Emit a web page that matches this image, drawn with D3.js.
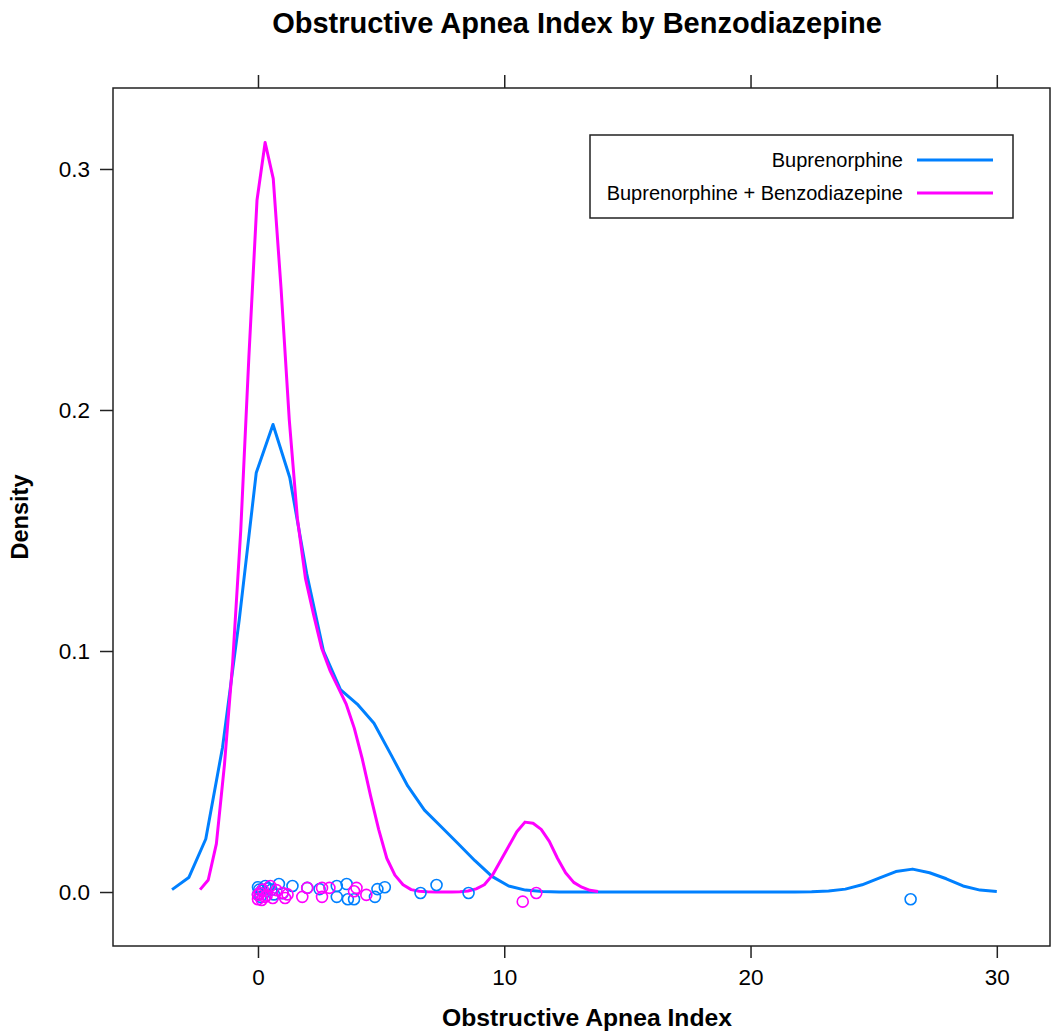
<!DOCTYPE html>
<html>
<head>
<meta charset="utf-8">
<script src="https://cdn.jsdelivr.net/npm/d3@7"></script>
<style>
  body { margin: 0; background: #fff; }
  svg text { font-family: "Liberation Sans", Arial, Helvetica, sans-serif; fill: #000; }
</style>
</head>
<body>
<div id="chart"></div>
<script>
// density curve of Buprenorphine group (x, density)
var bupX = [-3.49, -2.81, -2.12, -1.44, -0.76, -0.07, 0.61, 1.29, 1.98, 2.66,
            3.35, 4.03, 4.71, 5.40, 6.08, 6.76, 7.45, 8.13, 8.81, 9.50,
            10.18, 10.86, 11.55, 12.23, 12.91, 13.60, 14.28, 14.96, 15.65, 16.33,
            17.02, 17.70, 18.38, 19.07, 19.75, 20.43, 21.12, 21.80, 22.48, 23.17,
            23.85, 24.53, 25.22, 25.90, 26.58, 27.27, 27.95, 28.63, 29.32, 30.00];
var bupY = [0.001, 0.006, 0.022, 0.060, 0.113, 0.174, 0.194, 0.172, 0.132, 0.100,
            0.084, 0.078, 0.070, 0.057, 0.044, 0.034, 0.027, 0.020, 0.013, 0.0065,
            0.0025, 0.0008, 0.0002, 0, 0, 0, 0, 0, 0, 0,
            0, 0, 0, 0, 0, 0, 0, 0, 0.0001, 0.0004,
            0.0012, 0.003, 0.0058, 0.0085, 0.0095, 0.008, 0.0055, 0.0025, 0.0008, 0.0002];

// density curve of Buprenorphine + Benzodiazepine group
var benzoX = [-2.35, -2.02, -1.69, -1.36, -1.03, -0.70, -0.37, -0.04, 0.29, 0.62,
              0.94, 1.27, 1.60, 1.93, 2.26, 2.59, 2.92, 3.25, 3.58, 3.91,
              4.24, 4.57, 4.90, 5.23, 5.56, 5.89, 6.22, 6.55, 6.88, 7.21,
              7.54, 7.87, 8.20, 8.53, 8.86, 9.19, 9.52, 9.85, 10.18, 10.51,
              10.84, 11.17, 11.50, 11.83, 12.16, 12.49, 12.82, 13.15, 13.48, 13.81];
var benzoY = [0.001, 0.005, 0.020, 0.053, 0.095, 0.150, 0.222, 0.287, 0.311, 0.296,
              0.250, 0.196, 0.155, 0.130, 0.115, 0.101, 0.092, 0.085, 0.078, 0.068,
              0.055, 0.040, 0.026, 0.014, 0.007, 0.003, 0.001, 0.0003, 0.0001, 0,
              0, 0, 0.0001, 0.0004, 0.0013, 0.003, 0.007, 0.013, 0.019, 0.025,
              0.029, 0.0285, 0.026, 0.021, 0.014, 0.008, 0.004, 0.002, 0.0007, 0.0002];

// raw observations (rug points, with their vertical jitter)
var bupPts = [0.0, 0.0, 0.05, 0.1, 0.15, 0.3, 0.4, 0.55, 0.65, 0.85, 1.0, 1.4, 2.0,
              2.5, 3.2, 3.6, 3.2, 3.65, 3.9, 4.85, 5.15, 4.75, 6.6,
              7.25, 8.55, 26.5];
var bupJit = [0.002, -0.001, 0.001, -0.002, 0.0005, 0.0025, 0.0015, 0.001, -0.001, 0.0033, -0.0005, 0.0025, 0.0017,
              0.0012, 0.0025, 0.0033, -0.002, -0.003, -0.003, 0.0012, 0.002, -0.002, -0.0004,
              0.0029, -0.0004, -0.003];
var benzoPts = [0.0, 0.0, 0.08, 0.15, 0.2, 0.28, 0.35, 0.5, 0.6, 0.75, 1.0, 1.1, 1.2, 1.8,
                2.0, 2.6, 2.6, 2.9, 3.9, 4.0, 4.4, 10.75, 11.3];
var benzoJit = [-0.0012, -0.003, -0.0004, -0.0033, 0.001, -0.002, -0.0015, 0.0025, -0.0025, 0.0008, -0.0004, -0.0025, -0.001, -0.002,
                0.0017, 0.0017, -0.002, 0.0017, 0.0003, 0.0017, -0.0012, -0.004, -0.0004];

var xTicks = [0, 10, 20, 30];
var yTicks = [0.0, 0.1, 0.2, 0.3];
var seriesNames = ["Buprenorphine", "Buprenorphine + Benzodiazepine"];
var seriesColors = ["#0080ff", "#ff00ff"];

var W = 1053, H = 1036;
var panel = {left: 113, right: 1050, top: 88, bottom: 946};

var svg = d3.select("#chart").append("svg")
  .attr("width", W)
  .attr("height", H);

var x = d3.scaleLinear()
  .domain([-5.887, 32.16])
  .range([panel.left, panel.right]);
var y = d3.scaleLinear()
  .domain([-0.0224, 0.3336])
  .range([panel.bottom, panel.top]);

// title
svg.append("text")
  .attr("x", 577).attr("y", 33)
  .attr("text-anchor", "middle")
  .style("font-size", "29px").style("font-weight", "bold")
  .text("Obstructive Apnea Index by Benzodiazepine");

// axes
var gLeft = svg.append("g")
  .attr("transform", "translate(" + panel.left + ",0)")
  .call(d3.axisLeft(y).tickValues(yTicks).tickFormat(d3.format(".1f")).tickSize(13).tickPadding(10));
var gBottom = svg.append("g")
  .attr("transform", "translate(0," + panel.bottom + ")")
  .call(d3.axisBottom(x).tickValues(xTicks).tickFormat(d3.format("d")).tickSize(12).tickPadding(11));
var gTop = svg.append("g")
  .attr("transform", "translate(0," + panel.top + ")")
  .call(d3.axisTop(x).tickValues(xTicks).tickFormat("").tickSize(13));

[gLeft, gBottom, gTop].forEach(function(g) {
  g.select(".domain").remove();
  g.selectAll("line").attr("stroke", "#222").attr("stroke-width", 1.5);
  g.selectAll("text").attr("fill", "#000")
    .style("font-family", "'Liberation Sans', Arial, sans-serif")
    .style("font-size", "22.5px");
});

// panel border
svg.append("rect")
  .attr("x", panel.left).attr("y", panel.top)
  .attr("width", panel.right - panel.left)
  .attr("height", panel.bottom - panel.top)
  .attr("fill", "none")
  .attr("stroke", "#222")
  .attr("stroke-width", 1.5);

// axis labels
svg.append("text")
  .attr("x", 587).attr("y", 1026)
  .attr("text-anchor", "middle")
  .style("font-size", "24.7px").style("font-weight", "bold")
  .text("Obstructive Apnea Index");
svg.append("text")
  .attr("transform", "translate(28,517) rotate(-90)")
  .attr("text-anchor", "middle")
  .style("font-size", "23.5px").style("font-weight", "bold")
  .text("Density");

var plot = svg.append("g");

var line = d3.line()
  .x(function(d) { return x(d[0]); })
  .y(function(d) { return y(d[1]); });

var curves = [d3.zip(bupX, bupY), d3.zip(benzoX, benzoY)];
plot.selectAll("path.curve")
  .data(curves)
  .enter()
  .append("path")
  .attr("class", "curve")
  .attr("d", line)
  .attr("fill", "none")
  .attr("stroke", function(d, i) { return seriesColors[i]; })
  .attr("stroke-width", 3)
  .attr("stroke-linejoin", "round");

// points
var pts = [d3.zip(bupPts, bupJit), d3.zip(benzoPts, benzoJit)];
pts.forEach(function(p, i) {
  plot.selectAll(null)
    .data(p)
    .enter()
    .append("circle")
    .attr("cx", function(d) { return x(d[0]); })
    .attr("cy", function(d) { return y(d[1]); })
    .attr("r", 5.5)
    .attr("fill", "none")
    .attr("stroke", seriesColors[i])
    .attr("stroke-width", 1.6);
});

// legend
var legend = svg.append("g");
legend.append("rect")
  .attr("x", 590).attr("y", 135)
  .attr("width", 423).attr("height", 83)
  .attr("fill", "#fff")
  .attr("stroke", "#222")
  .attr("stroke-width", 1.5);

var rows = legend.selectAll("g.row")
  .data(seriesNames)
  .enter()
  .append("g")
  .attr("transform", function(d, i) { return "translate(0," + (160 + i * 33) + ")"; });
rows.append("text")
  .attr("x", 903).attr("y", 7)
  .attr("text-anchor", "end")
  .style("font-size", "20px")
  .text(function(d) { return d; });
rows.append("line")
  .attr("x1", 917).attr("x2", 993)
  .attr("stroke", function(d, i) { return seriesColors[i]; })
  .attr("stroke-width", 3);
</script>
</body>
</html>
